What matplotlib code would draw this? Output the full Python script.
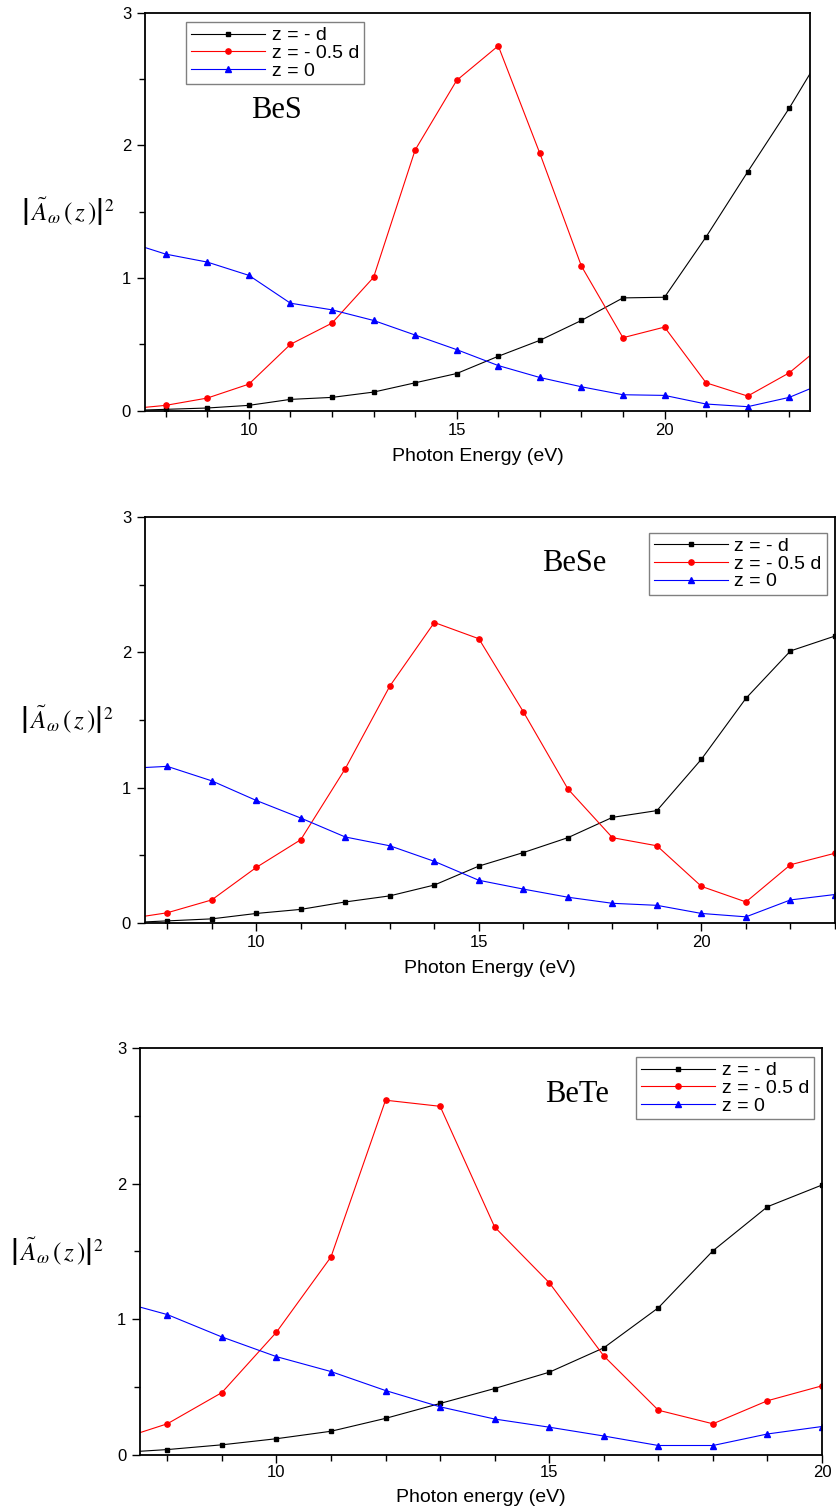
import matplotlib
matplotlib.use( "Agg" )
import matplotlib.pyplot as plt
from matplotlib.ticker import MultipleLocator


# DATA
#=============================================================================================================================
energy_BeS  = [ 7, 8, 9, 10, 11, 12, 13, 14, 15, 16, 17, 18, 19, 20, 21, 22, 23, 24 ]
BeS_d       = [ 0.00, 0.01, 0.02, 0.04, 0.085, 0.10, 0.14, 0.21, 0.28, 0.41, 0.53, 0.68, 0.85, 0.855, 1.31, 1.80, 2.28, 2.80 ]
BeS_half    = [ 0.01, 0.04, 0.095, 0.20, 0.50, 0.66, 1.005, 1.965, 2.49, 2.75, 1.94, 1.09, 0.55, 0.63, 0.21, 0.11, 0.285, 0.545 ]
BeS_zero    = [ 1.28, 1.18, 1.12, 1.02, 0.81, 0.76, 0.68, 0.57, 0.46, 0.34, 0.25, 0.18, 0.12, 0.115, 0.05, 0.03, 0.10, 0.23 ]

energy_BeSe = [ 7, 8, 9, 10, 11, 12, 13, 14, 15, 16, 17, 18, 19, 20, 21, 22, 23 ]
BeSe_d      = [ 0.00, 0.015, 0.03, 0.07, 0.10, 0.155, 0.20, 0.28, 0.42, 0.52, 0.63, 0.78, 0.83, 1.21, 1.66, 2.01, 2.12 ]
BeSe_half   = [ 0.025, 0.075, 0.17, 0.41, 0.615, 1.14, 1.75, 2.22, 2.10, 1.56, 0.99, 0.63, 0.57, 0.27, 0.155, 0.43, 0.515 ]
BeSe_zero   = [ 1.14, 1.157, 1.05, 0.905, 0.775, 0.635, 0.57, 0.455, 0.315, 0.25, 0.19, 0.145, 0.13, 0.07, 0.045, 0.17, 0.21 ]

energy_BeTe = [ 7, 8, 9, 10, 11, 12, 13, 14, 15, 16, 17, 18, 19, 20 ]
BeTe_d      = [ 0.015, 0.04, 0.075, 0.12, 0.175, 0.27, 0.38, 0.49, 0.61, 0.79, 1.085, 1.505, 1.83, 1.99 ]
BeTe_half   = [ 0.10, 0.23, 0.46, 0.905, 1.46, 2.615, 2.57, 1.68, 1.27, 0.73, 0.33, 0.23, 0.40, 0.51 ]
BeTe_zero   = [ 1.145, 1.035, 0.87, 0.725, 0.615, 0.475, 0.355, 0.265, 0.205, 0.14, 0.07, 0.07, 0.155, 0.21 ]

series_labels = [ "z = - d", "z = - 0.5 d", "z = 0" ]
xlabels       = [ "Photon Energy (eV)", "Photon Energy (eV)", "Photon energy (eV)" ]
materials     = [ "BeS", "BeSe", "BeTe" ]


# FIGURE
#=============================================================================================================================
plt.rcParams[ "font.family" ]      = [ "Liberation Sans", "DejaVu Sans" ]
plt.rcParams[ "mathtext.fontset" ] = "stix"

fig = plt.figure( figsize = ( 8.36, 15.12 ), dpi = 100 )

boxes   = [ [ 0.1734, 0.7284, 0.7955, 0.2632 ],
            [ 0.1734, 0.3896, 0.8254, 0.2685 ],
            [ 0.1675, 0.0377, 0.8158, 0.2692 ] ]
xlims   = [ ( 7.5, 23.5 ), ( 7.5, 23.0 ), ( 7.5, 20.0 ) ]
legends = [ dict( loc = "upper left",  bbox_to_anchor = ( 0.062, 0.977 ) ),
            dict( loc = "upper right", bbox_to_anchor = ( 0.988, 0.961 ) ),
            dict( loc = "upper right", bbox_to_anchor = ( 0.988, 0.978 ) ) ]
tags    = [ ( 0.198, 0.755 ), ( 0.622, 0.885 ), ( 0.64, 0.885 ) ]
ylab_x  = [ -0.116, -0.113, -0.122 ]
tickpad = [ 3, 3, 1 ]

data = [ ( energy_BeS,  BeS_d,  BeS_half,  BeS_zero ),
         ( energy_BeSe, BeSe_d, BeSe_half, BeSe_zero ),
         ( energy_BeTe, BeTe_d, BeTe_half, BeTe_zero ) ]

for i in range( 3 ):
    ax = fig.add_axes( boxes[ i ] )
    e, d, half, zero = data[ i ]

    ax.plot( e, d,    color = "black", lw = 0.8, marker = "s", ms = 3.5, label = series_labels[ 0 ] )
    ax.plot( e, half, color = "red",   lw = 0.8, marker = "o", ms = 3.8, label = series_labels[ 1 ] )
    ax.plot( e, zero, color = "blue",  lw = 0.8, marker = "^", ms = 4.0, label = series_labels[ 2 ] )

    ax.set_xlim( xlims[ i ] )
    ax.set_ylim( 0, 3 )
    ax.xaxis.set_major_locator( MultipleLocator( 5 ) )
    ax.xaxis.set_minor_locator( MultipleLocator( 1 ) )
    ax.yaxis.set_major_locator( MultipleLocator( 1 ) )
    ax.yaxis.set_minor_locator( MultipleLocator( 0.5 ) )
    ax.tick_params( which = "both", direction = "out", top = False, right = False,
                    width = 1.0, labelsize = 12 )
    ax.tick_params( which = "major", length = 6 )
    ax.tick_params( axis = "x", which = "major", pad = tickpad[ i ] )
    ax.tick_params( axis = "y", which = "major", pad = 4 )
    ax.tick_params( which = "minor", length = 4 )
    for sp in ax.spines.values():
        sp.set_linewidth( 1.3 )

    ax.set_xlabel( xlabels[ i ], fontsize = 14, labelpad = 7 )
    ax.set_ylabel( r"$\left|\,\tilde{A}_{\omega}\,\left(\,z\,\right)\right|^{2}$",
                   fontsize = 18, rotation = 0, ha = "center", va = "center" )
    ax.yaxis.set_label_coords( ylab_x[ i ], 0.5 )

    ax.text( tags[ i ][ 0 ], tags[ i ][ 1 ], materials[ i ], transform = ax.transAxes,
             family = "Liberation Serif", fontsize = 22, ha = "center", va = "center" )

    leg = ax.legend( fontsize = 14, numpoints = 1, handlelength = 3.8, handletextpad = 0.35,
                     labelspacing = 0.0, borderpad = 0.25, borderaxespad = 0, fancybox = False,
                     framealpha = 1, **legends[ i ] )
    leg.get_frame().set_edgecolor( "gray" )
    leg.get_frame().set_linewidth( 1.0 )

fig.savefig( "out.png", dpi = 100 )
